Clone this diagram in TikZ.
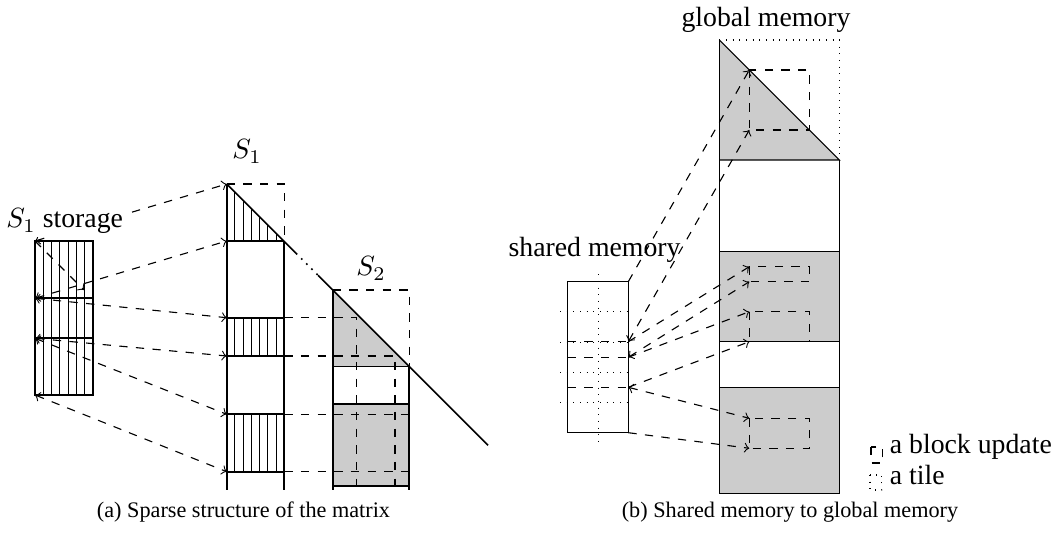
\documentclass[tikz,border=0pt]{standalone}
\usepackage{fontspec}
\setmainfont{Liberation Serif}
\begin{document}
\begin{tikzpicture}[x=0.36pt,y=-0.36pt,
  edge/.style={line width=0.6pt},
  hatch/.style={line width=0.35pt},
  link/.style={dashed,<->,>=to},
  fwd/.style={dashed,->,>=to},
  lbl/.style={inner sep=0pt,font=\fontsize{10}{12}\selectfont},
  captxt/.style={inner sep=0pt,font=\fontsize{8}{10}\selectfont},
  shade/.style={fill=black!20}]
\useasboundingbox (0,0) rectangle (1058,533);

% ---------------- (a) ----------------
% storage block
\foreach \i in {1,...,6} \draw[hatch] ({35+\i*58/7},241) -- ({35+\i*58/7},395);
\draw[edge] (35,241) rectangle (93,395);
\draw[edge] (35,298.3) -- (93,298.3);
\draw[edge] (35,338.3) -- (93,338.3);
\coordinate (stA) at (35,241);
\coordinate (stB) at (35,298.3);
\coordinate (stC) at (35,338.3);
\coordinate (stD) at (35,395);
\coordinate (stE) at (84,290);

% S1 column
\foreach \i in {1,...,6} {
  \draw[hatch] ({226.7+\i*8.229},{184+\i*8.229}) -- ({226.7+\i*8.229},241);
  \draw[hatch] ({226.7+\i*8.229},317.7) -- ({226.7+\i*8.229},356);
  \draw[hatch] ({226.7+\i*8.229},414.3) -- ({226.7+\i*8.229},471.7);
}
\draw[edge] (226.7,184) -- (226.7,490);
\draw[edge] (284.3,241) -- (284.3,490);
\foreach \y in {241,317.7,356,414.3,471.7} \draw[edge] (226.7,\y) -- (284.3,\y);
\draw[dashed] (226.7,184) -- (284.3,184) -- (284.3,241);
\coordinate (sa) at (226.7,184);
\coordinate (sb) at (226.7,241);
\coordinate (sc) at (226.7,317.7);
\coordinate (sd) at (226.7,356);
\coordinate (se) at (226.7,414.3);
\coordinate (sf) at (226.7,471.7);

% S2 column
\fill[shade] (332.7,290) -- (409.3,366.6) -- (332.7,366.6) -- cycle;
\fill[shade] (332.7,404.3) rectangle (409.3,485.7);
\draw[edge] (332.7,290) -- (332.7,490);
\draw[edge] (409.3,366.6) -- (409.3,490);
\foreach \y in {366.6,404.3,485.7} \draw[edge] (332.7,\y) -- (409.3,\y);
\draw[dashed] (332.7,290) -- (409.3,290) -- (409.3,366.6);

% diagonal
\draw[edge] (226.7,184) -- (296,253.3);
\draw[edge,dotted] (296,253.3) -- (318,275.3);
\draw[edge] (318,275.3) -- (488,445.3);

% update lines
\draw[dashed] (284.3,317.7) -- (356.7,317.7) -- (356.7,495);
\draw[dashed] (284.3,356) -- (395,356) -- (395,490);
\draw[dashed] (284.3,414.3) -- (409.3,414.3);
\draw[dashed] (284.3,471.7) -- (409.3,471.7);

% arrows storage -> S1
\draw[link] (stA) -- (sa);
\draw[link] (stB) -- (sb);
\draw[link] (stB) -- (sc);
\draw[link] (stC) -- (sd);
\draw[link] (stC) -- (se);
\draw[link] (stD) -- (sf);
\draw[fwd] (stA) -- (stE);

\node[lbl,anchor=base west,fill=white,inner sep=1pt] (lstor) at (3,228) {$S_1$ storage};
\node[lbl,anchor=base] (ls1) at (247,159) {$S_1$};
\node[lbl,anchor=base] (ls2) at (371,276) {$S_2$};
\node[captxt] (capa) at (243.5,512) {(a) Sparse structure of the matrix};

% ---------------- (b) ----------------
\fill[shade] (719.3,40) -- (839.3,160) -- (719.3,160) -- cycle;
\fill[shade] (719.3,251.7) rectangle (839.3,341.7);
\fill[shade] (719.3,387.3) rectangle (839.3,493.3);
\draw (719.3,40) -- (719.3,493.3) -- (839.3,493.3) -- (839.3,160);
\draw (719.3,40) -- (839.3,160) -- (719.3,160);
\foreach \y in {251.7,341.7,387.3} \draw (719.3,\y) -- (839.3,\y);
\draw[dotted] (719.3,40) -- (839.3,40) -- (839.3,160);
% block updates
\draw[dashed] (749.3,70) rectangle (809.5,130);
\draw[dashed] (749.3,266.7) rectangle (809.5,281.7);
\draw[dashed] (749.3,311.7) rectangle (809.5,341.7);
\draw[dashed] (749.3,418.3) rectangle (809.5,448.3);
\coordinate (g1) at (749.3,70);
\coordinate (g2) at (749.3,130);
\coordinate (g3) at (749.3,266.7);
\coordinate (g4) at (749.3,281.7);
\coordinate (g5) at (749.3,311.7);
\coordinate (g6) at (749.3,341.7);
\coordinate (g7) at (749.3,418.3);
\coordinate (g8) at (749.3,448.3);

% shared memory
\draw (567.7,281.7) rectangle (628.3,432.7);
\draw[dotted] (598.3,274.3) -- (598.3,442.7);
\foreach \y in {311.9,342.1,372.3,402.5} \draw[dotted] (560,\y) -- (628.3,\y);
\foreach \y in {341.7,357.3,387.3} \draw[dashed] (567.7,\y) -- (628.3,\y);
\coordinate (m1) at (628.3,281.7);
\coordinate (m2) at (628.3,341.7);
\coordinate (m3) at (628.3,357.3);
\coordinate (m4) at (628.3,387.3);
\coordinate (m5) at (628.3,432.7);

\draw[fwd] (m1) -- (g1);
\draw[link] (m2) -- (g2);
\draw[fwd] (m2) -- (g3);
\draw[link] (m3) -- (g4);
\draw[fwd] (m3) -- (g5);
\draw[fwd] (m4) -- (g6);
\draw[link] (m4) -- (g7);
\draw[fwd] (m5) -- (g8);

\node[lbl,anchor=base] (lglob) at (766,26.7) {global memory};
\node[lbl,anchor=base west] (lshar) at (508,256.7) {shared memory};

% legend
\draw[dashed] (871,447) rectangle (882.7,463);
\draw[dotted] (870,475) rectangle (881.7,490);
\node[lbl,anchor=base west] (lbu) at (889.3,453.3) {a block update};
\node[lbl,anchor=base west] (ltile) at (889.3,485) {a tile};
\node[captxt] (capb) at (790,512) {(b) Shared memory to global memory};
\end{tikzpicture}
\end{document}
